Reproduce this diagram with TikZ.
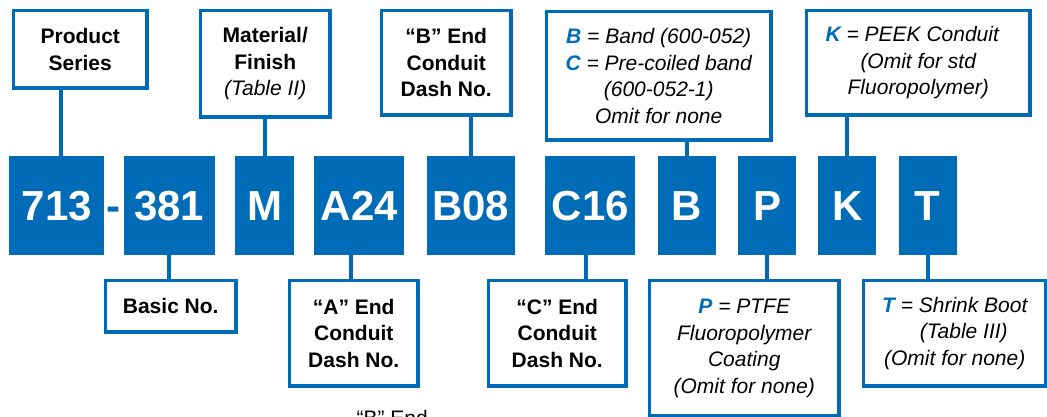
\documentclass[tikz,border=0pt]{standalone}
\usepackage{fontspec}
\setmainfont{Liberation Sans}
\usetikzlibrary{positioning,calc}
\definecolor{codeblue}{RGB}{0,108,183}
\newcommand{\lblfont}{\fontsize{21pt}{26.5pt}\selectfont}
\newcommand{\optltr}[1]{\textcolor{codeblue}{\bfseries #1}}
\tikzset{
    every picture/.style={
        x=1pt,y=-1pt,node distance=22pt,
        codebox/.style={fill=codeblue,text=white,inner sep=0pt,minimum height=99pt,
            font=\fontsize{42pt}{48pt}\selectfont\bfseries},
        labelbox/.style={draw=codeblue,line width=3.5pt,fill=white,inner sep=0pt,
            align=center,anchor=north west,font=\lblfont},
        boldbox/.style={labelbox,font=\lblfont\bfseries},
        italbox/.style={labelbox,font=\lblfont\itshape},
        conn/.style={draw=codeblue,line width=4pt}
    }
}
\begin{document}
\begin{tikzpicture}
    \clip (0,0) rectangle (1047,416);
    % part number boxes
    \node[codebox,minimum width=95pt,anchor=north west] (c713) at (9,156) {713};
    \node[codebox,minimum width=91pt] (c381) [right=19pt of c713] {381};
    \node[codebox,minimum width=59pt] (cM)   [right=20pt of c381] {M};
    \node[codebox,minimum width=90pt] (cA24) [right=20pt of cM] {A24};
    \node[codebox,minimum width=88pt] (cB08) [right=of cA24] {B08};
    \node[codebox,minimum width=90pt] (cC16) [right=30pt of cB08] {C16};
    \node[codebox,minimum width=58pt] (cB)   [right=of cC16] {B};
    \node[codebox,minimum width=58pt] (cP)   [right=of cB] {P};
    \node[codebox,minimum width=58pt] (cK)   [right=of cP] {K};
    \node[codebox,minimum width=58pt] (cT)   [right=of cK] {T};
    \node[anchor=base,text=codeblue,font=\fontsize{42pt}{48pt}\selectfont\bfseries] (dash)
        at ($(c713.base east)!.5!(c381.base west)$) {-};

    % labels above
    \node[boldbox,minimum width=133.5pt,minimum height=77.5pt] (series) at (11.75,8.75)
        {Product\\Series};
    \node[boldbox,minimum width=129.5pt,minimum height=106.5pt] (finish) at (198.75,8.75)
        {Material/\\Finish\\{\mdseries\itshape (Table II)}};
    \node[boldbox,minimum width=129.5pt,minimum height=104.5pt] (bend) at (379.75,8.75)
        {“B” End\\Conduit\\Dash No.};
    \node[italbox,minimum width=224.5pt,minimum height=128.5pt] (band) at (544.75,9.75)
        {\optltr{B} = Band (600-052)\\\optltr{C} = Pre-coiled band\\(600-052-1)\\Omit for none};
    \node[italbox,minimum width=223.5pt,minimum height=104.5pt] (peek) at (804.75,8.75)
        {\optltr{K} = PEEK Conduit\hspace*{12pt}\\(Omit for std\\Fluoropolymer)};

    % labels below
    \node[boldbox,minimum width=130.5pt,minimum height=51.5pt] (basic) at (103.75,278.75)
        {Basic No.};
    \node[boldbox,minimum width=128.5pt,minimum height=105.5pt] (aend) at (287.75,278.75)
        {“A” End\\Conduit\\Dash No.};
    \node[boldbox,minimum width=137.5pt,minimum height=105.5pt] (cend) at (486.75,278.75)
        {“C” End\\Conduit\\Dash No.};
    \node[italbox,minimum width=189.5pt,minimum height=135.5pt] (ptfe) at (647.75,278.75)
        {\optltr{P} = PTFE\\Fluoropolymer\\Coating\\(Omit for none)};
    \node[italbox,minimum width=182.5pt,minimum height=105.5pt] (boot) at (861.75,278.75)
        {\optltr{T} = Shrink Boot\\\hspace*{18pt}(Table III)\\(Omit for none)};

    \node[anchor=base west,font=\lblfont] (cutoff) at (353,425) {“B” End};

    % connectors
    \draw[conn] (c713.north) ++(4.5,0) coordinate (t713) -- (t713 |- series.south);
    \draw[conn] (cM.north) -- (cM.north |- finish.south);
    \draw[conn] (cB08.north) -- (cB08.north |- bend.south);
    \draw[conn] (cB.north) -- (cB.north |- band.south);
    \draw[conn] (cK.north) -- (cK.north |- peek.south);
    \draw[conn] (c381.south) -- (c381.south |- basic.north);
    \draw[conn] (cA24.south) ++(-8.5,0) coordinate (tA24) -- (tA24 |- aend.north);
    \draw[conn] (cC16.south) ++(-4,0) coordinate (tC16) -- (tC16 |- cend.north);
    \draw[conn] (cP.south) -- (cP.south |- ptfe.north);
    \draw[conn] (cT.south) -- (cT.south |- boot.north);
\end{tikzpicture}
\end{document}
